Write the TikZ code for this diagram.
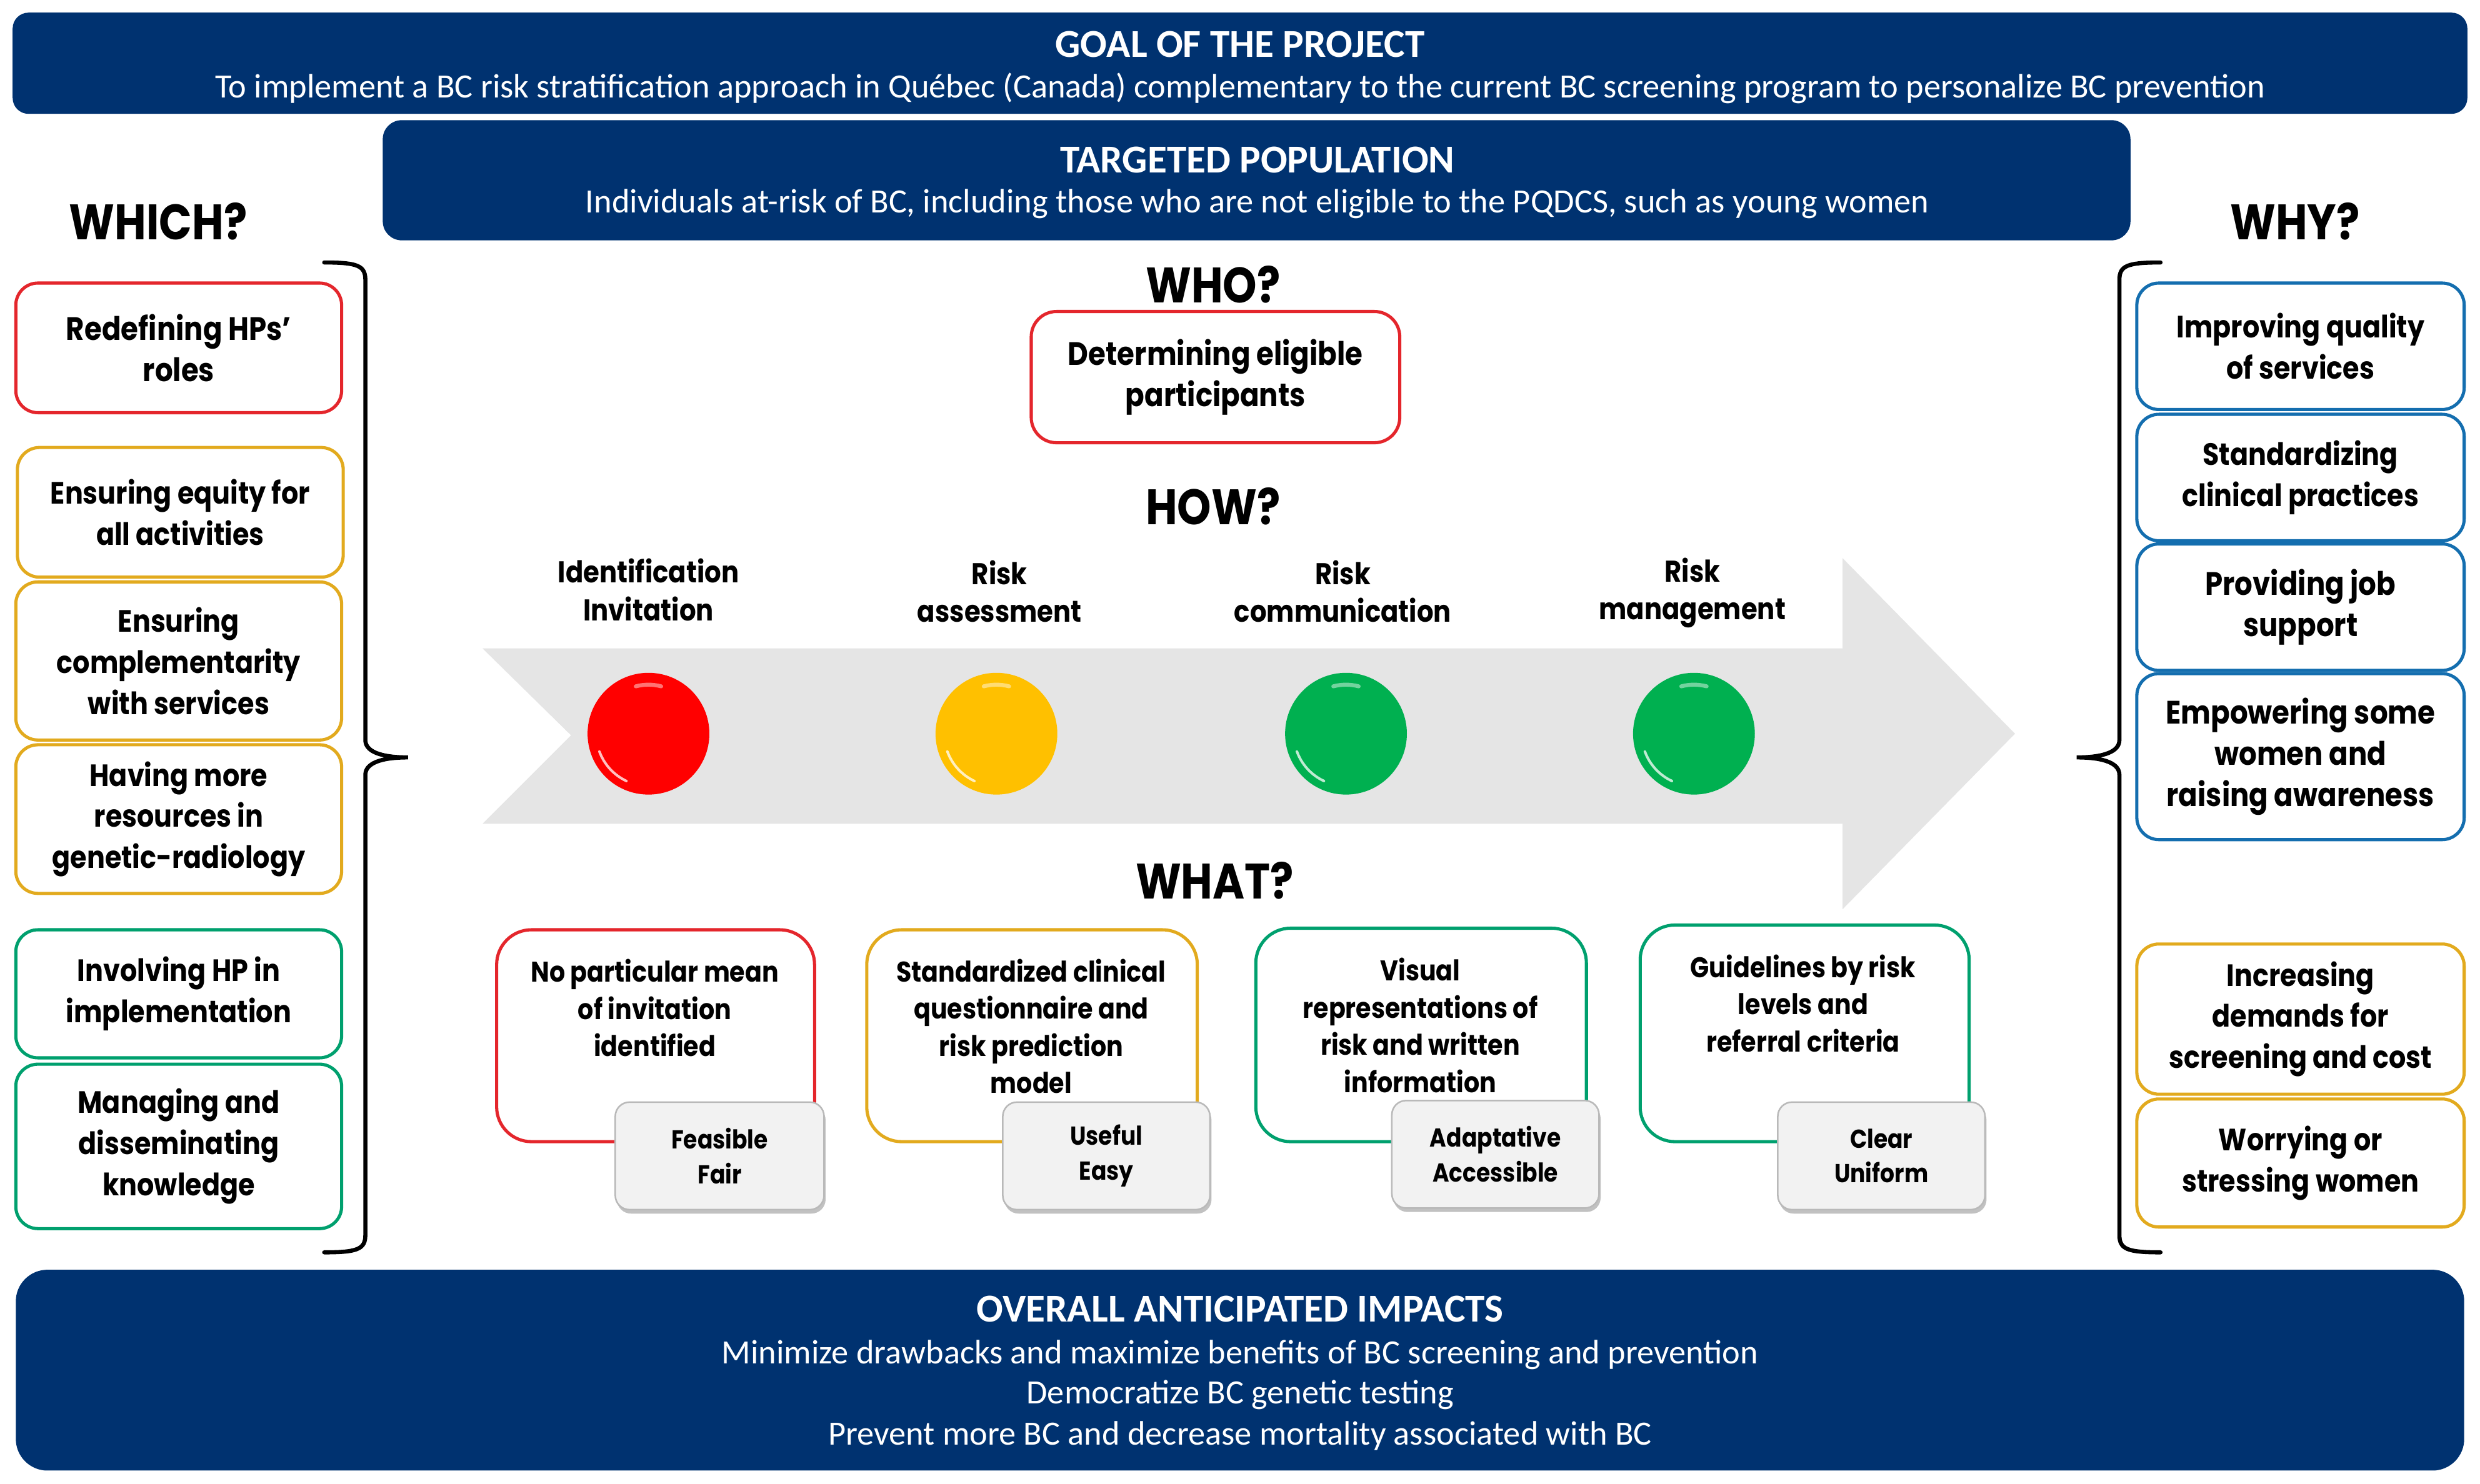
\documentclass[tikz,border=0pt]{standalone}
\usepackage{fontspec}
\setmainfont{Carlito}
\newfontfamily\fb{Poppins}[FakeStretch=0.87]
\usetikzlibrary{shadows}
\definecolor{dblue}{RGB}{0,50,112}
\definecolor{cred}{RGB}{228,38,44}
\definecolor{cgold}{RGB}{226,170,30}
\definecolor{cgreen}{RGB}{0,160,110}
\definecolor{cblue}{RGB}{20,110,175}
\definecolor{agray}{RGB}{229,229,229}
\definecolor{lred}{RGB}{255,0,0}
\definecolor{lyel}{RGB}{255,192,0}
\definecolor{lgrn}{RGB}{0,176,80}
\tikzset{
  banner/.style={fill=dblue, inner sep=0pt},
  btitle/.style={text=white, font=\fontsize{25}{28}\selectfont\bfseries},
  bsub/.style={text=white, font=\fontsize{21.5}{25}\selectfont},
  hdr/.style={font=\fb\fontsize{31.5}{34}\selectfont\bfseries},
  sbox/.style={draw, line width=2pt, rounded corners=14pt, fill=white, align=center, inner sep=0pt},
  wtxt/.style={font=\fb\fontsize{19.5}{26}\selectfont\bfseries},
  ntxt/.style={font=\fb\fontsize{20.5}{26}\selectfont\bfseries},
  wbox/.style={draw, line width=2pt, rounded corners=22pt, fill=white, inner sep=0pt},
  wtext/.style={align=center, font=\fb\fontsize{18}{23.5}\selectfont\bfseries},
  tag/.style={draw=gray!55, line width=1pt, fill={rgb,255:red,242;green,242;blue,242}, rounded corners=9pt, align=center, inner sep=0pt,
    drop shadow={shadow xshift=1pt, shadow yshift=-2.5pt, fill=gray!60, opacity=0.8},
    font=\fb\fontsize{16.4}{22}\selectfont\bfseries},
  alabel/.style={align=center, font=\fb\fontsize{19}{24}\selectfont\bfseries},
  light/.style={circle, inner sep=0pt, minimum size=77pt},
  brace/.style={line width=2.6pt, line cap=round},
}
\begin{document}
\begin{tikzpicture}[x=1pt,y=-1pt]
\useasboundingbox (0,0) rectangle (1568,938.5);

% ---------- banners ----------
\node[banner, rounded corners=10pt, minimum width=1552pt, minimum height=64pt] (goal) at (784,40) {};
\node[btitle] (goalt) at (784,28) {GOAL OF THE PROJECT};
\node[bsub] (goals) at (784,56) {To implement a BC risk stratification approach in Québec (Canada) complementary to the current BC screening program to personalize BC prevention};

\node[banner, rounded corners=12pt, minimum width=1105pt, minimum height=76pt] (pop) at (794.5,114) {};
\node[btitle] (popt) at (795,101) {TARGETED POPULATION};
\node[bsub] (pops) at (795,129) {Individuals at-risk of BC, including those who are not eligible to the PQDCS, such as young women};

\node[banner, rounded corners=20pt, minimum width=1548pt, minimum height=127pt] (imp) at (784,866.5) {};
\node[btitle] (impt) at (784,828) {OVERALL ANTICIPATED IMPACTS};
\node[bsub] (imp1) at (784,857) {Minimize drawbacks and maximize benefits of BC screening and prevention};
\node[bsub] (imp2) at (784,882) {Democratize BC genetic testing};
\node[bsub] (imp3) at (784,908) {Prevent more BC and decrease mortality associated with BC};

% ---------- headers ----------
\node[hdr] (which) at (100,140) {WHICH?};
\node[hdr] (why) at (1451,140) {WHY?};
\node[hdr] (who) at (767,180) {WHO?};
\node[hdr] (how) at (767,320) {HOW?};
\node[hdr] (what) at (768,557) {WHAT?};

% ---------- left column ----------
\node[sbox, draw=cred, minimum width=206pt, minimum height=82pt, ntxt] (l1) at (113,220) {Redefining HPs’\\roles};
\node[sbox, draw=cgold, minimum width=206pt, minimum height=82pt, wtxt] (l2) at (114,324) {Ensuring equity for\\all activities};
\node[sbox, draw=cgold, minimum width=206pt, minimum height=100pt, wtxt] (l3) at (113,418) {Ensuring\\complementarity\\with services};
\node[sbox, draw=cgold, minimum width=206pt, minimum height=94pt, wtxt] (l4) at (113,518) {Having more\\resources in\\genetic-radiology};
\node[sbox, draw=cgreen, minimum width=206pt, minimum height=81pt, wtxt] (l5) at (113,628.5) {Involving HP in\\implementation};
\node[sbox, draw=cgreen, minimum width=206pt, minimum height=104pt, wtxt] (l6) at (113,725) {Managing and\\disseminating\\knowledge};

% ---------- right column ----------
\node[sbox, draw=cblue, minimum width=207pt, minimum height=80pt, wtxt] (r1) at (1454.5,219) {Improving quality\\of services};
\node[sbox, draw=cblue, minimum width=207pt, minimum height=80pt, wtxt] (r2) at (1454.5,302) {Standardizing\\clinical practices};
\node[sbox, draw=cblue, minimum width=207pt, minimum height=80pt, ntxt] (r3) at (1454.5,384) {Providing job\\support};
\node[sbox, draw=cblue, minimum width=207pt, minimum height=105pt, ntxt] (r4) at (1454.5,478.5) {Empowering some\\women and\\raising awareness};
\node[sbox, draw=cgold, minimum width=207pt, minimum height=95pt, wtxt] (r5) at (1454.5,644.5) {Increasing\\demands for\\screening and cost};
\node[sbox, draw=cgold, minimum width=207pt, minimum height=81pt, wtxt] (r6) at (1454.5,735.5) {Worrying or\\stressing women};

% ---------- braces ----------
\draw[brace] (205,166) .. controls (226,166) and (231,168) .. (231,177) -- (231,468)
  .. controls (231,475) and (240,479) .. (258,479)
  .. controls (240,479) and (231,483) .. (231,490) -- (231,781)
  .. controls (231,790) and (226,792) .. (205,792);
\draw[brace] (1366,166) .. controls (1345,166) and (1340,168) .. (1340,177) -- (1340,468)
  .. controls (1340,475) and (1331,479) .. (1313,479)
  .. controls (1331,479) and (1340,483) .. (1340,490) -- (1340,781)
  .. controls (1340,790) and (1345,792) .. (1366,792);

% ---------- WHO ----------
\node[sbox, draw=cred, minimum width=233pt, minimum height=83pt, ntxt, rounded corners=16pt] (whobox) at (768.5,238.5) {Determining eligible\\participants};

% ---------- arrow ----------
\fill[agray] (305,410) -- (1165,410) -- (1165,353) -- (1274,464) -- (1165,575) -- (1165,521) -- (305,521) -- (361,465) -- cycle;
\draw[white, line width=1.2pt] (307,409) -- (1164,409);

\node[alabel] (h1) at (410,373) {Identification\\Invitation};
\node[alabel] (h2) at (632,374) {Risk\\assessment};
\node[alabel] (h3) at (849,374) {Risk\\communication};
\node[alabel] (h4) at (1070,375) {Risk\\management};

\node[light, fill=lred] (c1) at (410,464) {};
\node[light, fill=lyel] (c2) at (630,464) {};
\node[light, fill=lgrn] (c3) at (851,464) {};
\node[light, fill=lgrn] (c4) at (1071,464) {};
\foreach \c in {c1,c2,c3,c4}{
  \begin{scope}[shift={(\c.center)}]
    \draw[white, opacity=0.75, line width=1.6pt, line cap=round] (200:33pt) arc[start angle=200, end angle=245, radius=33pt];
    \draw[white, opacity=0.45, line width=2.5pt, line cap=round] (75:31pt) arc[start angle=75, end angle=105, radius=31pt];
  \end{scope}
}

% ---------- WHAT ----------
\node[wbox, draw=cred, minimum width=201pt, minimum height=134pt] (w1) at (414.5,655) {};
\node[wbox, draw=cgold, minimum width=209pt, minimum height=134pt] (w2) at (652.5,655) {};
\node[wbox, draw=cgreen, minimum width=209pt, minimum height=135pt] (w3) at (898.5,654.5) {};
\node[wbox, draw=cgreen, minimum width=208pt, minimum height=137pt] (w4) at (1141,653.5) {};

\node[wtext] (w1t) at (414,637.5) {No particular mean\\of invitation\\identified};
\node[wtext] (w2t) at (652,649) {Standardized clinical\\questionnaire and\\risk prediction\\model};
\node[wtext] (w3t) at (898,648.5) {Visual\\representations of\\risk and written\\information};
\node[wtext] (w4t) at (1140,634.5) {Guidelines by risk\\levels and\\referral criteria};

\node[tag, minimum width=132pt, minimum height=68pt] (t1) at (455,731) {Feasible\\Fair};
\node[tag, minimum width=131pt, minimum height=68pt] (t2) at (699.5,731) {Useful\\Easy};
\node[tag, minimum width=131pt, minimum height=68pt] (t3) at (945.5,730) {Adaptative\\Accessible};
\node[tag, minimum width=131pt, minimum height=68pt] (t4) at (1189.5,731) {Clear\\Uniform};
\end{tikzpicture}
\end{document}
